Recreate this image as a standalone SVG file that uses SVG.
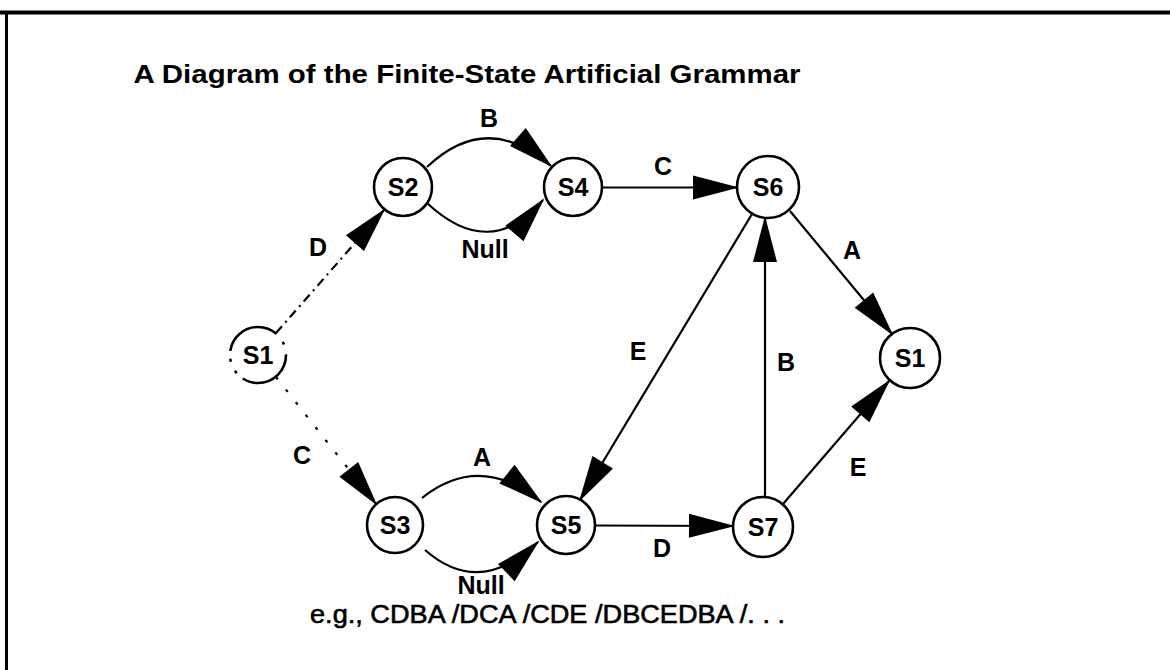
<svg xmlns="http://www.w3.org/2000/svg" width="1170" height="670" viewBox="0 0 1170 670">
  <defs>
    <marker id="head" markerUnits="userSpaceOnUse" orient="auto" refX="0" refY="0" markerWidth="60" markerHeight="30" style="overflow:visible">
      <path d="M2,0 L-44,-12 L-44,12 Z" fill="#000"/>
    </marker>
    <style>
      .state circle { fill: #fff; stroke: #000; stroke-width: 2.6; }
      .lbl { font-family: "Liberation Sans", Arial, sans-serif; font-weight: bold; font-size: 25px; fill: #000; text-anchor: middle; }
      .edge { fill: none; stroke: #000; stroke-width: 2.2; }
      .arrow { marker-end: url(#head); }
      .dashdot { stroke-dasharray: 9 5 2 5; }
      .dotted { stroke-dasharray: 3 13; }
    </style>
  </defs>
  <rect x="0" y="0" width="1170" height="670" fill="#fff"/>

  <!-- frame -->
  <g id="frame" stroke="#000" fill="none">
    <line x1="0" y1="12.5" x2="1170" y2="12.5" stroke-width="4"/>
    <line x1="6.5" y1="11" x2="6.5" y2="670" stroke-width="3"/>
  </g>

  <text id="title" class="lbl" x="467" y="83" textLength="667" lengthAdjust="spacingAndGlyphs">A Diagram of the Finite-State Artificial Grammar</text>

  <!-- connectors -->
  <g id="connectors">
    <line class="edge arrow dashdot" x1="276" y1="333" x2="384" y2="210"/>
    <line class="edge arrow dotted" x1="276" y1="377" x2="376" y2="504"/>
    <path class="edge arrow" d="M427,167 Q487,110 551,166"/>
    <path class="edge arrow" d="M427,203 Q490,262 543,200"/>
    <line class="edge arrow" x1="602" y1="187.5" x2="737" y2="187.5"/>
    <line class="edge arrow" x1="790" y1="211" x2="892" y2="334"/>
    <line class="edge arrow" x1="752" y1="214" x2="580" y2="500"/>
    <line class="edge arrow" x1="765" y1="497" x2="765" y2="218"/>
    <line class="edge arrow" x1="783" y1="504" x2="889" y2="381"/>
    <path class="edge arrow" d="M422,498 Q480,452 541,502"/>
    <path class="edge arrow" d="M425,550 Q480,598 538,542"/>
    <line class="edge arrow" x1="595" y1="525.5" x2="733" y2="526"/>
  </g>

  <!-- edge labels -->
  <g id="edge-labels">
    <text class="lbl" x="489" y="127">B</text>
    <text class="lbl" x="485" y="258">Null</text>
    <text class="lbl" x="663" y="175">C</text>
    <text class="lbl" x="318" y="256">D</text>
    <text class="lbl" x="852" y="259">A</text>
    <text class="lbl" x="638" y="360">E</text>
    <text class="lbl" x="786" y="371">B</text>
    <text class="lbl" x="858" y="476">E</text>
    <text class="lbl" x="302" y="464">C</text>
    <text class="lbl" x="482" y="466">A</text>
    <text class="lbl" x="662" y="557">D</text>
    <text class="lbl" x="481" y="594">Null</text>
  </g>

  <!-- states -->
  <g id="s1-start" class="state">
    <circle cx="258" cy="355" r="28" stroke-dasharray="60 8 3 10 3 8 60 10 3 10"/>
    <text class="lbl" x="258" y="364">S1</text>
  </g>
  <g id="s2" class="state">
    <circle cx="403" cy="187" r="29"/>
    <text class="lbl" x="403" y="196">S2</text>
  </g>
  <g id="s4" class="state">
    <circle cx="573" cy="187" r="29"/>
    <text class="lbl" x="573" y="196">S4</text>
  </g>
  <g id="s6" class="state">
    <circle cx="768" cy="187" r="31"/>
    <text class="lbl" x="768" y="196">S6</text>
  </g>
  <g id="s1-end" class="state">
    <circle cx="910" cy="358" r="30"/>
    <text class="lbl" x="910" y="367">S1</text>
  </g>
  <g id="s3" class="state">
    <circle cx="395" cy="525" r="28"/>
    <text class="lbl" x="395" y="534">S3</text>
  </g>
  <g id="s5" class="state">
    <circle cx="566" cy="525" r="29"/>
    <text class="lbl" x="566" y="534">S5</text>
  </g>
  <g id="s7" class="state">
    <circle cx="763" cy="527" r="30"/>
    <text class="lbl" x="763" y="536">S7</text>
  </g>

  <text id="examples" x="310" y="623" font-family="Liberation Sans, Arial, sans-serif" font-size="25" stroke="#000" stroke-width="0.6" textLength="475" lengthAdjust="spacingAndGlyphs">e.g., CDBA /DCA /CDE /DBCEDBA /. . .</text>
</svg>
